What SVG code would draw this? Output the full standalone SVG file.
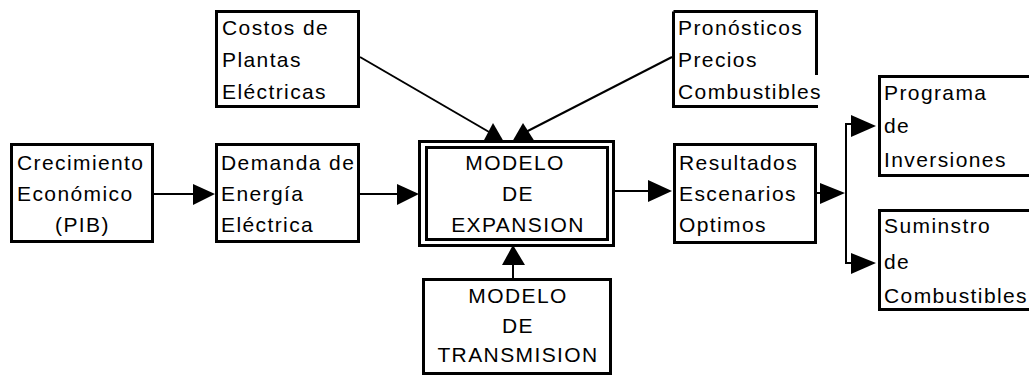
<svg xmlns="http://www.w3.org/2000/svg" width="1029" height="376" viewBox="0 0 1029 376">
<style>
.box{fill:#fff;stroke:#000;stroke-width:3}
.open{fill:none;stroke:#000;stroke-width:3}
.t{font-family:"Liberation Sans",Arial,sans-serif;font-size:21px;letter-spacing:1.4px;fill:#000}
.c{text-anchor:middle}
.ln{stroke:#000;stroke-width:2;fill:none}
.ah{fill:#000;stroke:none}
</style>
<rect width="1029" height="376" fill="#fff"/>
<g id="connectors">
<line class="ln" x1="154" y1="194" x2="195" y2="194"/>
<polygon class="ah" points="193,184 215,194 193,205"/>
<line class="ln" x1="360" y1="194" x2="399" y2="194"/>
<polygon class="ah" points="397,184 419,194 397,205"/>
<line class="ln" x1="612" y1="191" x2="650" y2="191"/>
<polygon class="ah" points="648,180 672,191 648,202"/>
<line class="ln" x1="815" y1="193" x2="822" y2="193"/>
<polygon class="ah" points="820,183 845,193 820,204"/>
<polyline class="ln" points="851,124 846,124 846,263 851,263"/>
<polygon class="ah" points="851,115 876,126 851,137"/>
<polygon class="ah" points="851,253 876,263 851,274"/>
<line class="ln" x1="360" y1="57" x2="496" y2="136"/>
<polygon class="ah" points="483,142 493,123 504,142"/>
<line class="ln" x1="672" y1="57" x2="518" y2="136"/>
<polygon class="ah" points="512,142 523,123 535,142"/>
<line class="ln" x1="513" y1="263" x2="513" y2="279"/>
<polygon class="ah" points="502,265 513,245 525,265"/>
</g>
<g id="crecimiento">
<rect class="box" x="11.5" y="144.5" width="141" height="97"/>
<text class="t" x="17" y="170">Crecimiento</text>
<text class="t" x="17" y="201">Económico</text>
<text class="t" x="55" y="232">(PIB)</text>
</g>
<g id="demanda">
<rect class="box" x="216.5" y="144.5" width="142" height="97"/>
<text class="t" x="221" y="170">Demanda de</text>
<text class="t" x="221" y="201">Energía</text>
<text class="t" x="221" y="232">Eléctrica</text>
</g>
<g id="costos">
<rect class="box" x="216.5" y="11.5" width="142" height="95"/>
<text class="t" x="222" y="35">Costos de</text>
<text class="t" x="222" y="67">Plantas</text>
<text class="t" x="222" y="99">Eléctricas</text>
</g>
<g id="pronosticos">
<path class="open" d="M673.5 11.5 H816.5 V75 M673.5 11.5 V106.5 H818"/>
<text class="t" x="678" y="35">Pronósticos</text>
<text class="t" x="678" y="67">Precios</text>
<text class="t" x="678" y="99">Combustibles</text>
</g>
<g id="expansion">
<rect class="box" x="419.5" y="141.5" width="194" height="104"/>
<rect class="open" x="426.5" y="147.5" width="181" height="92"/>
<text class="t c" x="515" y="170">MODELO</text>
<text class="t c" x="518" y="201">DE</text>
<text class="t c" x="518" y="232">EXPANSION</text>
</g>
<g id="resultados">
<rect class="box" x="674.5" y="144.5" width="141" height="98"/>
<text class="t" x="679" y="170">Resultados</text>
<text class="t" x="679" y="201">Escenarios</text>
<text class="t" x="679" y="232">Optimos</text>
</g>
<g id="programa">
<path class="open" d="M1040 76.5 H879.5 V175.5 H1040"/>
<text class="t" x="884" y="100">Programa</text>
<text class="t" x="884" y="133">de</text>
<text class="t" x="884" y="167">Inversiones</text>
</g>
<g id="suministro">
<path class="open" d="M1040 210.5 H879.5 V309.5 H1040"/>
<text class="t" x="884" y="233">Suminstro</text>
<text class="t" x="884" y="269">de</text>
<text class="t" x="884" y="303">Combustibles</text>
</g>
<g id="transmision">
<rect class="box" x="423.5" y="279.5" width="187" height="94"/>
<text class="t c" x="518" y="303">MODELO</text>
<text class="t c" x="518" y="333">DE</text>
<text class="t c" x="518" y="362">TRANSMISION</text>
</g>
</svg>
